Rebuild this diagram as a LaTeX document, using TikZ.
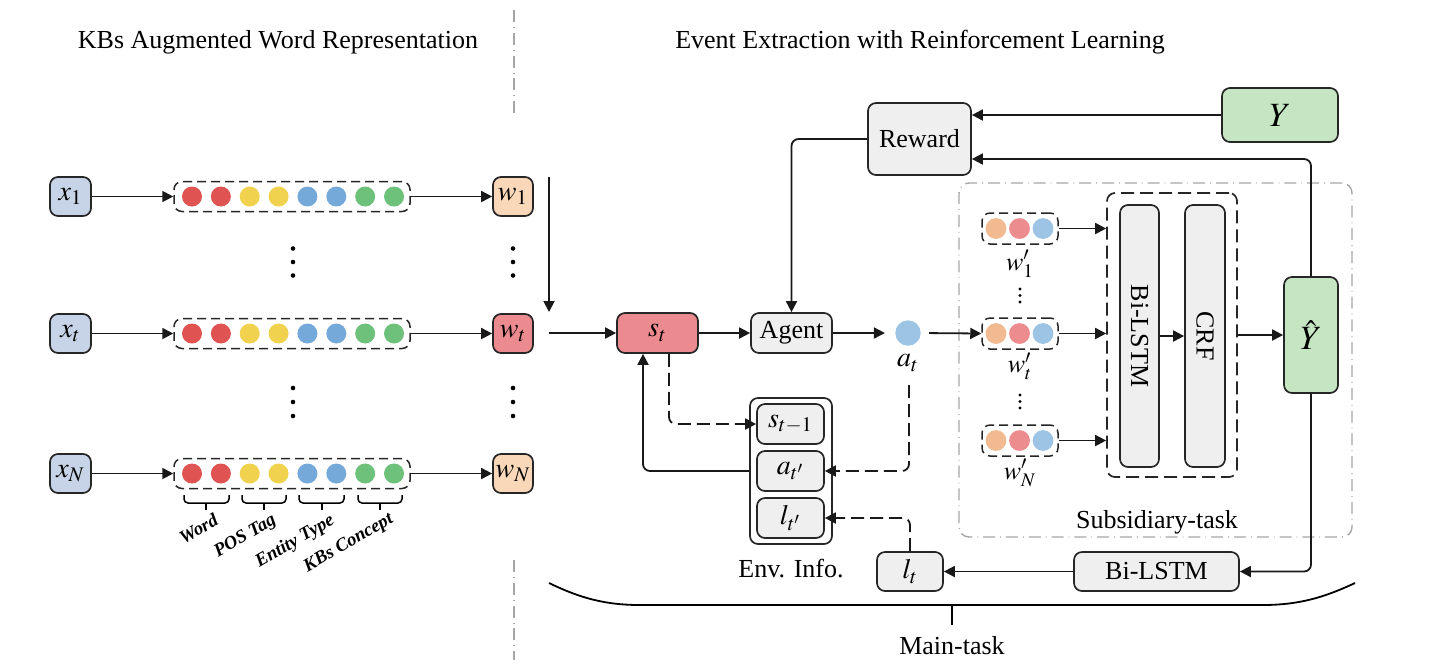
\documentclass[tikz,border=0pt]{standalone}
\usepackage{mathptmx}
\usepackage{fontspec}
\setmainfont{Liberation Serif}
\usetikzlibrary{arrows.meta,calc}
\definecolor{xcol}{HTML}{C7D3E6}
\definecolor{peach}{HTML}{F9D8BA}
\definecolor{pinkc}{HTML}{EC8B8F}
\definecolor{grayf}{HTML}{EFEFEF}
\definecolor{greenf}{HTML}{C6E6C3}
\definecolor{cR}{HTML}{E05353}
\definecolor{cY}{HTML}{F0D24F}
\definecolor{cB}{HTML}{75A9DA}
\definecolor{cG}{HTML}{6DC17A}
\definecolor{sP}{HTML}{F2BA91}
\definecolor{sK}{HTML}{EC8C8F}
\definecolor{sB}{HTML}{9DC3E5}
\definecolor{divg}{HTML}{A6A6A6}
\begin{document}
\begin{tikzpicture}[x=0.5pt,y=-0.5pt,
  rbox/.style={draw=black!85, line width=0.85pt, rounded corners=4pt, inner sep=0pt, align=center},
  arr/.style={-{Triangle[length=5.5pt,width=5.5pt]}, line width=0.9pt, draw=black!90},
  dsh/.style={dash pattern=on 6.5pt off 3pt},
  embbox/.style={draw=black!85, line width=0.75pt, rounded corners=4pt, dash pattern=on 4.5pt off 2.5pt, inner sep=0pt},
  ddot/.style={draw=divg, line width=0.7pt, dash pattern=on 6pt off 2.5pt on 0.4pt off 2.5pt},
  mfont/.style={font=\fontsize{14}{16}\selectfont},
  tfont/.style={font=\fontsize{13}{15}\selectfont},
  lab/.style={font=\fontsize{9.3}{10}\selectfont\bfseries\itshape, rotate=30, anchor=north east, inner sep=0pt},
  rc/.style={rounded corners=3.5pt}
]
\useasboundingbox (0,0) rectangle (1444,671);

% titles
\node[tfont] (t1) at (278,42) {KBs Augmented Word Representation};
\node[tfont] (t2) at (920,42) {Event Extraction with Reinforcement Learning};

% divider
\coordinate (d1) at (514,10); \coordinate (d2) at (514,117);
\coordinate (d3) at (514,560); \coordinate (d4) at (514,660);
\draw[ddot] (d1) -- (d2);
\draw[ddot] (d3) -- (d4);

% left rows
\foreach \r/\yy/\wc/\sub in {1/196.5/peach/1, t/333.5/pinkc/t, N/473.5/peach/N}{
  \node[rbox, fill=xcol, minimum width=20.5pt, minimum height=19.5pt, mfont] (x\r) at (70.5,\yy) {$x_{\sub}$};
  \node[embbox, minimum width=118pt, minimum height=15pt] (emb\r) at (292,\yy) {};
  \foreach \c [count=\k from 0] in {cR,cR,cY,cY,cB,cB,cG,cG}
    \fill[\c] (192+28.86*\k,\yy) circle (5pt);
  \node[rbox, fill=\wc, minimum width=20pt, minimum height=19.5pt, mfont] (w\r) at (513,\yy) {$w_{\sub}$};
  \draw[arr] (x\r.east) -- (emb\r.west);
  \draw[arr] (emb\r.east) -- (w\r.west);
}
% vertical dots
\foreach \xx in {293,513}{
  \foreach \yy in {248.5,262,275.5,388,402,416}
    \fill (\xx,\yy) circle (1.15pt);
}
% braces
\foreach \a/\b/\m in {184/229/206, 242/286/264, 299/344/322, 358/402/380}{
  \draw[line width=0.75pt, rounded corners=2pt] (\a,495) -- (\a,503) -- (\b,503) -- (\b,495);
  \draw[line width=0.75pt] (\m,503) -- (\m,510);
}
\node[lab] (lw) at (213,512) {Word};
\node[lab] (lp) at (271,512) {POS Tag};
\node[lab] (le) at (329,512) {Entity Type};
\node[lab] (lk) at (388,511) {KBs Concept};

% into s_t
\coordinate (vtop) at (549,177); \coordinate (vbot) at (549,312);
\draw[arr] (vtop) -- (vbot);
\coordinate (hin) at (549,333);

% main nodes
\node[rbox, fill=pinkc, minimum width=40.5pt, minimum height=20pt, mfont] (st) at (657.5,333) {$s_t$};
\node[rbox, fill=grayf, minimum width=40.5pt, minimum height=20pt, tfont] (agent) at (791.5,333) {Agent};
\node[rbox, fill=grayf, minimum width=51.5pt, minimum height=36pt, tfont] (reward) at (919.5,139) {Reward};
\node[circle, fill=sB, minimum size=12.7pt, inner sep=0pt] (at) at (908,333) {};
\node[font=\fontsize{14}{16}\selectfont] (atl) at (908,363) {$a_t$};
\node[rbox, fill=greenf, minimum width=58pt, minimum height=27pt, font=\fontsize{17}{19}\selectfont] (Y) at (1280,115) {$Y$};

\draw[arr] (hin) -- (st.west);
\draw[arr] (st.east) -- (agent.west);
\draw[arr, shorten >=5pt] (agent.east) -- (at.west);
\draw[arr, rc] (reward.west) -| (agent.north);

% subsidiary task
\node[ddot, rounded corners=5pt, minimum width=196.5pt, minimum height=177pt, inner sep=0pt] (sub) at (1155.5,360) {};
\node[tfont] (subl) at (1157,522) {Subsidiary-task};
\node[embbox, dash pattern=on 6.5pt off 3pt, line width=0.85pt, minimum width=65pt, minimum height=142pt] (cont) at (1172,335) {};
\node[rbox, fill=grayf, minimum width=19.5pt, minimum height=131pt] (bil) at (1139.5,336) {};
\node[tfont, rotate=-90] (bilt) at (1139.5,336) {Bi-LSTM};
\node[rbox, fill=grayf, minimum width=20pt, minimum height=131pt] (crf) at (1205,336) {};
\node[tfont, rotate=-90] (crft) at (1205,336) {CRF};
\node[rbox, fill=greenf, minimum width=27pt, minimum height=58pt, font=\fontsize{17}{19}\selectfont] (yhat) at (1311,335) {$\hat{Y}$};

\foreach \r/\yy/\sub/\ly in {1/228.5/1/264, t/333.5/t/366, N/440.5/N/473}{
  \node[embbox, minimum width=38pt, minimum height=15.5pt] (wp\r) at (1020,\yy) {};
  \foreach \c [count=\k from 0] in {sP,sK,sB}
    \fill[\c] (996+23.5*\k,\yy) circle (5.2pt);
  \node[font=\fontsize{13}{15}\selectfont] (wpl\r) at (1020,\ly) {$w'_{\sub}$};
  \draw[arr] (wp\r.east) -- (wp\r.east -| cont.west);
}
\foreach \yy in {289,295.5,302,395,401.5,408}
  \fill (1020,\yy) circle (0.85pt);

\draw[arr, shorten <=4pt] (at.east) -- (wpt.west);
\draw[arr] (bil.east) -- (crf.west);
\draw[arr] (cont.east |- yhat.west) -- (yhat.west);
\draw[arr] (Y.west) -- (Y.west -| reward.east);
\draw[arr, rc] (yhat.north) |- ([yshift=-10pt]reward.east);

% bottom chain
\node[rbox, fill=grayf, minimum width=82.5pt, minimum height=19.5pt, tfont] (bil2) at (1156.5,571.5) {Bi-LSTM};
\node[rbox, fill=grayf, minimum width=33pt, minimum height=19.5pt, mfont] (lt) at (910,571.5) {$l_t$};
\draw[arr, rc] (yhat.south) |- (bil2.east);
\draw[arr] (bil2.west) -- (lt.east);

% env info
\node[rbox, fill=white, minimum width=41pt, minimum height=73pt] (env) at (791,471) {};
\node[rbox, fill=grayf, minimum width=33.5pt, minimum height=20pt, mfont] (stm) at (790.5,424) {$s_{t-1}$};
\node[rbox, fill=grayf, minimum width=33.5pt, minimum height=20pt, mfont] (atp) at (790.5,471) {$a_{t'}$};
\node[rbox, fill=grayf, minimum width=33.5pt, minimum height=20pt, mfont] (ltp) at (790.5,518) {$l_{t'}$};
\node[tfont] (envl) at (791,569) {Env. Info.};

\draw[arr, dsh, rc] ([xshift=5.75pt]st.south) |- (stm.west);
\draw[arr, rc] (env.west) -| ([xshift=-7.25pt]st.south);
\coordinate (atd) at (909,385);
\draw[arr, dsh, rc] (atd) |- (atp.east);
\draw[arr, dsh, rc] (lt.north) |- (ltp.east);

% main-task brace
\draw[line width=0.9pt] (549,583) .. controls (580,598) and (605,605) .. (640,605) -- (1262,605) .. controls (1298,605) and (1323,598) .. (1355,583);
\coordinate (mt1) at (952,605); \coordinate (mt2) at (952,625);
\draw[line width=0.9pt] (mt1) -- (mt2);
\node[tfont] (mtl) at (952,646) {Main-task};
\end{tikzpicture}
\end{document}
